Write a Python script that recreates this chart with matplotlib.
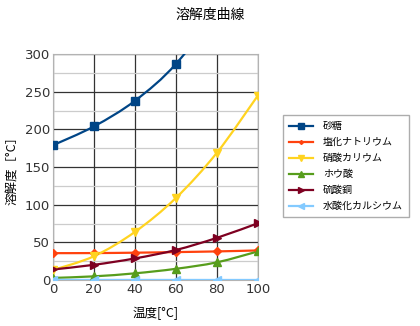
import numpy as np
import matplotlib
matplotlib.use("Agg")
import matplotlib.pyplot as plt
from matplotlib.path import Path
from matplotlib.patches import PathPatch

plt.rcParams['font.family'] = ['Noto Sans CJK JP', 'DejaVu Sans']

temps = [0, 20, 40, 60, 80, 100]
sugar = [179, 204, 238, 287, 362, 485]
nacl = [35.7, 35.8, 36.3, 37.1, 38.0, 39.3]
kno3 = [13.3, 31.6, 63.9, 109, 169, 245]
boric = [2.8, 4.9, 8.9, 14.9, 23.5, 38.0]
cuso4 = [14.0, 20.2, 28.7, 39.9, 56.0, 75.4]
caoh2 = [0.17, 0.16, 0.13, 0.11, 0.09, 0.07]

names = ['砂糖', '塩化ナトリウム', '硝酸カリウム', 'ホウ酸', '硫酸銅', '水酸化カルシウム']
series = [sugar, nacl, kno3, boric, cuso4, caoh2]
colors = ['#004586', '#ff420e', '#ffd320', '#579d1c', '#7e0021', '#83caff']
markers = ['s', 'D', 'v', '^', '>', '<']
msizes = [6, 4, 6, 6, 6, 6]


def smooth_path(x, y):
    # Catmull-Rom style bezier through the points (drawing only)
    x = np.asarray(x, float)
    y = np.asarray(y, float)
    verts = [(x[0], y[0])]
    codes = [Path.MOVETO]
    n = len(x)
    for i in range(n - 1):
        p0 = np.array([x[max(i - 1, 0)], y[max(i - 1, 0)]])
        p1 = np.array([x[i], y[i]])
        p2 = np.array([x[i + 1], y[i + 1]])
        p3 = np.array([x[min(i + 2, n - 1)], y[min(i + 2, n - 1)]])
        c1 = p1 + (p2 - p0) / 6.0
        c2 = p2 - (p3 - p1) / 6.0
        verts += [tuple(c1), tuple(c2), tuple(p2)]
        codes += [Path.CURVE4] * 3
    return Path(verts, codes)


fig = plt.figure(figsize=(4.2, 3.26), dpi=100)
ax = fig.add_axes([0.126, 0.141, 0.488, 0.693])

for vals, name, c, m, ms in zip(series, names, colors, markers, msizes):
    patch = PathPatch(smooth_path(temps, vals), facecolor='none', edgecolor=c,
                      linewidth=1.6, zorder=3)
    ax.add_patch(patch)
    ax.plot(temps, vals, linestyle='none', marker=m, color=c, markersize=ms,
            zorder=4, clip_on=True)
    ax.plot([], [], color=c, marker=m, markersize=ms - 2, linewidth=1.6, label=name)

ax.set_xlim(0, 100)
ax.set_ylim(0, 300)
ax.set_xticks([0, 20, 40, 60, 80, 100])
ax.set_yticks(np.arange(0, 301, 50))
ax.set_yticks(np.arange(25, 300, 50), minor=True)
ax.grid(True, which='major', color='#333333', linewidth=0.9)
ax.grid(True, which='minor', axis='y', color='#cccccc', linewidth=0.9)
ax.tick_params(which='both', length=0, labelsize=9.5, colors='#333333', pad=2)
for lbl in ax.get_xticklabels() + ax.get_yticklabels():
    lbl.set_family('DejaVu Sans')
for s in ax.spines.values():
    s.set_color('#b3b3b3')

ax.set_xlabel('温度[°C]', fontsize=9, labelpad=8)
ax.set_ylabel('溶解度［°C］', fontsize=9, labelpad=4)
fig.suptitle('溶解度曲線', fontsize=10, x=0.5, y=0.975)

ax.legend(loc='upper left', bbox_to_anchor=(1.122, 0.73), fontsize=7.2,
          frameon=True, fancybox=False, edgecolor='#999999', handlelength=2.4,
          borderpad=0.6, labelspacing=0.6, handletextpad=1.0, borderaxespad=0)

fig.savefig('out.png', dpi=100)
